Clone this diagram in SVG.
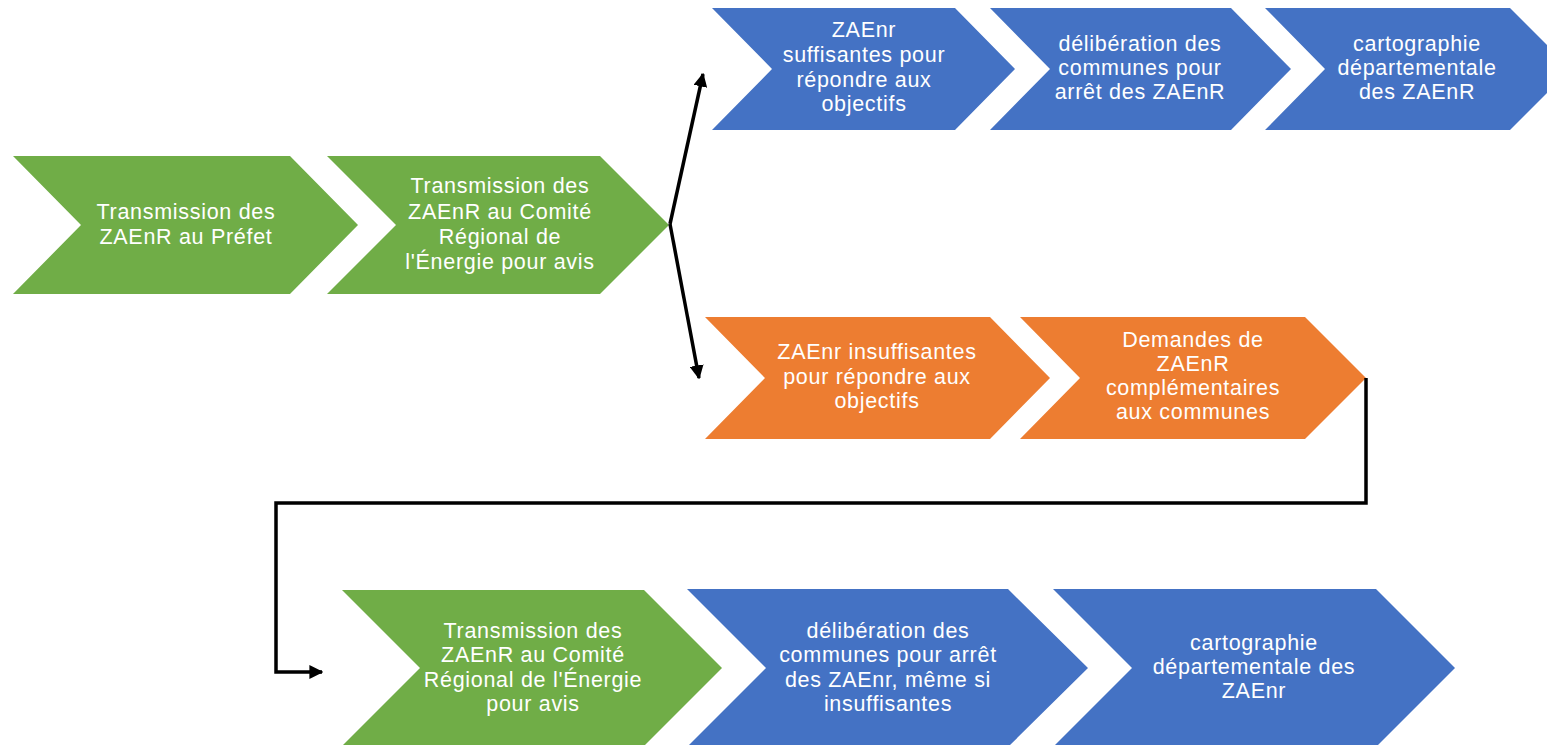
<svg xmlns="http://www.w3.org/2000/svg" width="1547" height="745" viewBox="0 0 1547 745">
<style>
.g{fill:#70AD47}.b{fill:#4472C4}.o{fill:#ED7D31}
text{font-family:"Liberation Sans",Arial,sans-serif;font-size:21.5px;letter-spacing:0.7px;fill:#ffffff;text-anchor:middle}
.c{fill:none;stroke:#000;stroke-width:3.5;stroke-linejoin:miter}
</style>
<defs>
<marker id="ah" viewBox="0 0 10 10" refX="9" refY="5" markerWidth="4" markerHeight="4" orient="auto" markerUnits="strokeWidth">
<path d="M0,0 L10,5 L0,10 z" fill="#000"/>
</marker>
</defs>
<rect width="1547" height="745" fill="#fff"/>
<g id="n1"><polygon class="g" points="13,156 290,156 358,225 290,294 13,294 81,225"/>
<text><tspan x="186" y="219">Transmission des</tspan><tspan x="186" y="244">ZAEnR au Préfet</tspan></text></g>
<g id="n2"><polygon class="g" points="327,156 600,156 669,225 600,294 327,294 396,225"/>
<text><tspan x="500" y="193">Transmission des</tspan><tspan x="500" y="219">ZAEnR au Comité</tspan><tspan x="500" y="244">Régional de</tspan><tspan x="500" y="269">l'Énergie pour avis</tspan></text></g>
<g id="n3"><polygon class="b" points="712,8 955,8 1015,69 955,130 712,130 772,69"/>
<text><tspan x="864" y="37">ZAEnr</tspan><tspan x="864" y="62">suffisantes pour</tspan><tspan x="864" y="87">répondre aux</tspan><tspan x="864" y="111">objectifs</tspan></text></g>
<g id="n4"><polygon class="b" points="990,8 1231,8 1291,69 1231,130 990,130 1050,69"/>
<text><tspan x="1140" y="51">délibération des</tspan><tspan x="1140" y="75">communes pour</tspan><tspan x="1140" y="99">arrêt des ZAEnR</tspan></text></g>
<g id="n5"><polygon class="b" points="1265,8 1510,8 1571,69 1510,130 1265,130 1325,69"/>
<text><tspan x="1417" y="51">cartographie</tspan><tspan x="1417" y="75">départementale</tspan><tspan x="1417" y="99">des ZAEnR</tspan></text></g>
<g id="n6"><polygon class="o" points="705,317 990,317 1050,378 990,439 705,439 765,378"/>
<text><tspan x="877" y="359">ZAEnr insuffisantes</tspan><tspan x="877" y="384">pour répondre aux</tspan><tspan x="877" y="408">objectifs</tspan></text></g>
<g id="n7"><polygon class="o" points="1020,317 1305,317 1366,378 1305,439 1020,439 1080,378"/>
<text><tspan x="1193" y="347">Demandes de</tspan><tspan x="1193" y="371">ZAEnR</tspan><tspan x="1193" y="395">complémentaires</tspan><tspan x="1193" y="419">aux communes</tspan></text></g>
<g id="n8"><polygon class="g" points="342,590 644,590 722,668 644,746 342,746 420,668"/>
<text><tspan x="533" y="638">Transmission des</tspan><tspan x="533" y="662">ZAEnR au Comité</tspan><tspan x="533" y="687">Régional de l'Énergie</tspan><tspan x="533" y="711">pour avis</tspan></text></g>
<g id="n9"><polygon class="b" points="687,589 1008,589 1088,668 1008,747 687,747 766,668"/>
<text><tspan x="888" y="638">délibération des</tspan><tspan x="888" y="662">communes pour arrêt</tspan><tspan x="888" y="687">des ZAEnr, même si</tspan><tspan x="888" y="711">insuffisantes</tspan></text></g>
<g id="n10"><polygon class="b" points="1053,589 1376,589 1455,668 1376,747 1053,747 1132,668"/>
<text><tspan x="1254" y="650">cartographie</tspan><tspan x="1254" y="674">départementale des</tspan><tspan x="1254" y="698">ZAEnr</tspan></text></g>
<g id="connectors">
<path class="c" d="M670,224 L703,74" marker-end="url(#ah)"/>
<path class="c" d="M670,224 L699,378" marker-end="url(#ah)"/>
<path class="c" d="M1366,378 L1366,503 L276,503 L276,672 L322,672" marker-end="url(#ah)"/>
</g>
</svg>
